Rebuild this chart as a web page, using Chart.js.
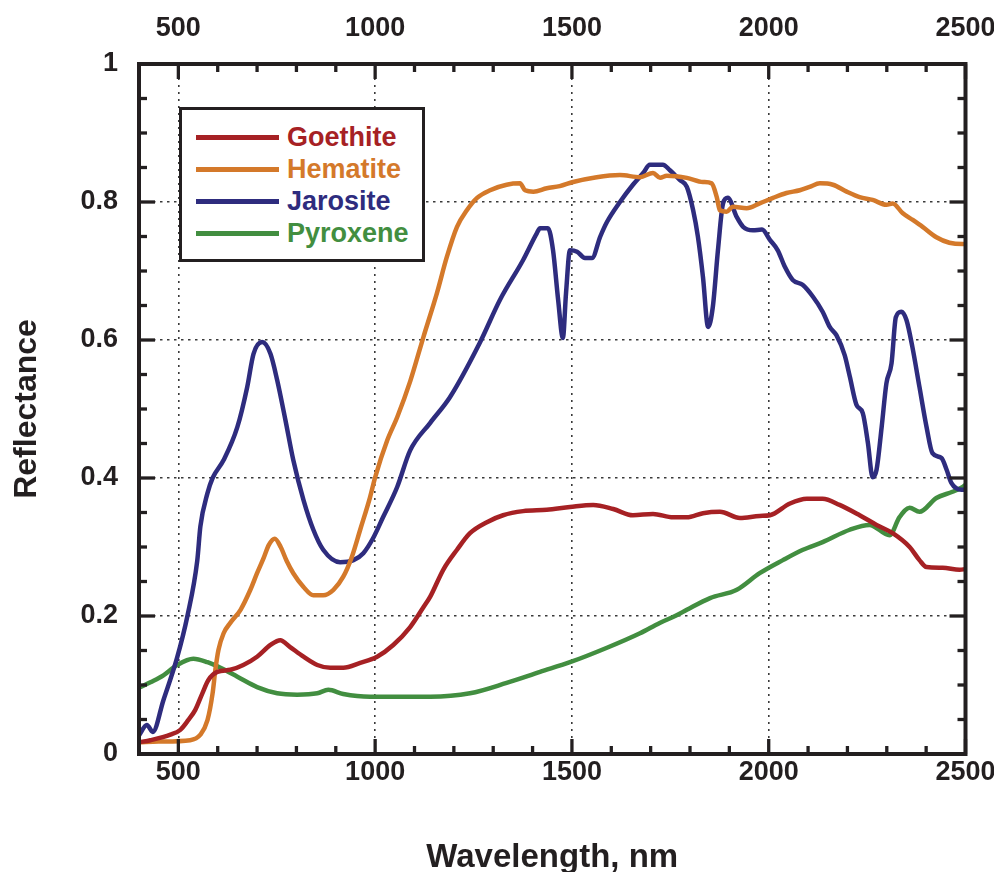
<!DOCTYPE html>
<html>
<head>
<meta charset="utf-8">
<script src="https://cdn.jsdelivr.net/npm/chart.js@4.4.1/dist/chart.umd.min.js"></script>
<style>
  html, body { margin: 0; padding: 0; background: #fff; }
  #wrap { position: relative; width: 994px; height: 872px; }
  #legend {
    position: absolute; left: 179px; top: 107px; width: 240px; height: 149px;
    border: 3.5px solid #231f20; background: #fff;
    font-family: "Liberation Sans", Arial, sans-serif; font-weight: bold; font-size: 27px;
  }
  #legend .row { position: absolute; left: 0; height: 32px; display: flex; align-items: center; }
  #legend .swatch { width: 83px; height: 5px; margin-left: 14px; margin-right: 8px; }
</style>
</head>
<body>
<div id="wrap">
  <canvas id="chart" width="994" height="872"></canvas>
  <div id="legend"></div>
</div>
<script>
// Axis tick values
const wavelengthTicks = [500, 1000, 1500, 2000, 2500];
const reflectanceTicks = [0, 0.2, 0.4, 0.6, 0.8, 1];

// Goethite spectrum
const goethiteNm = [400, 429, 480, 505, 525, 543, 561, 576, 599, 632, 665, 700, 734, 759, 784, 818, 853, 886, 919, 962,
  1005, 1046, 1089, 1123, 1140, 1173, 1208, 1241, 1284, 1325, 1376, 1436, 1495, 1554, 1605, 1655, 1706, 1757, 1792,
  1833, 1876, 1927, 1977, 2003, 2054, 2097, 2137, 2180, 2231, 2274, 2315, 2358, 2383, 2401, 2442, 2485, 2500];
const goethiteR = [0.017, 0.02, 0.028, 0.035, 0.049, 0.064, 0.088, 0.107, 0.119, 0.122, 0.129, 0.141, 0.158, 0.165, 0.155,
  0.141, 0.129, 0.125, 0.125, 0.132, 0.141, 0.158, 0.184, 0.213, 0.228, 0.267, 0.296, 0.32, 0.336, 0.346, 0.352, 0.354,
  0.358, 0.361, 0.355, 0.346, 0.348, 0.343, 0.343, 0.349, 0.351, 0.342, 0.345, 0.346, 0.363, 0.37, 0.37, 0.361, 0.346,
  0.332, 0.32, 0.30, 0.281, 0.271, 0.27, 0.267, 0.268];

// Hematite spectrum
const hematiteNm = [400, 450, 530, 556, 574, 587, 594, 602, 615, 632, 658, 683, 700, 716, 730, 745, 760, 775, 792, 818,
  843, 868, 894, 919, 941, 962, 987, 1000, 1031, 1056, 1089, 1123, 1157, 1182, 1208, 1233, 1259, 1292, 1334, 1368,
  1381, 1402, 1436, 1469, 1503, 1563, 1622, 1673, 1706, 1724, 1741, 1792, 1833, 1855, 1868, 1876, 1893, 1909, 1944,
  1977, 2011, 2045, 2079, 2104, 2130, 2163, 2198, 2231, 2264, 2299, 2315, 2340, 2366, 2391, 2426, 2459, 2493, 2500];
const hematiteR = [0.017, 0.018, 0.02, 0.028, 0.049, 0.088, 0.122, 0.151, 0.175, 0.19, 0.209, 0.238, 0.262, 0.283, 0.303,
  0.312, 0.3, 0.28, 0.262, 0.242, 0.23, 0.23, 0.238, 0.257, 0.286, 0.325, 0.372, 0.401, 0.455, 0.488, 0.54, 0.605,
  0.668, 0.72, 0.764, 0.788, 0.806, 0.817, 0.825, 0.827, 0.817, 0.815, 0.82, 0.823, 0.829, 0.836, 0.839, 0.836, 0.842,
  0.835, 0.838, 0.835, 0.829, 0.827, 0.807, 0.788, 0.786, 0.793, 0.791, 0.798, 0.806, 0.813, 0.817, 0.822, 0.827,
  0.825, 0.815, 0.807, 0.803, 0.796, 0.798, 0.784, 0.774, 0.764, 0.749, 0.741, 0.739, 0.739];

// Jarosite spectrum
const jarositeNm = [400, 420, 435, 462, 497, 523, 548, 556, 574, 587, 615, 650, 675, 691, 713, 734, 751, 772, 792, 818,
  843, 868, 911, 945, 970, 995, 1020, 1056, 1089, 1140, 1190, 1266, 1317, 1376, 1411, 1419, 1439, 1452, 1465, 1477,
  1485, 1495, 1513, 1533, 1551, 1572, 1589, 1622, 1655, 1681, 1698, 1731, 1749, 1774, 1792, 1808, 1820, 1833, 1846,
  1858, 1871, 1884, 1896, 1919, 1935, 1960, 1983, 2003, 2023, 2041, 2061, 2086, 2112, 2137, 2155, 2172, 2193, 2206,
  2223, 2239, 2252, 2264, 2274, 2287, 2299, 2312, 2323, 2337, 2350, 2365, 2383, 2401, 2416, 2439, 2452, 2464, 2490, 2500];
const jarositeR = [0.027, 0.042, 0.032, 0.078, 0.14, 0.2, 0.28, 0.33, 0.378, 0.4, 0.426, 0.474, 0.532, 0.58, 0.597, 0.58,
  0.542, 0.484, 0.426, 0.368, 0.325, 0.296, 0.278, 0.281, 0.291, 0.313, 0.343, 0.387, 0.44, 0.48, 0.517, 0.596, 0.658,
  0.716, 0.755, 0.762, 0.762, 0.73, 0.658, 0.603, 0.668, 0.73, 0.728, 0.719, 0.719, 0.75, 0.771, 0.8, 0.825, 0.842,
  0.854, 0.854, 0.846, 0.832, 0.822, 0.788, 0.75, 0.691, 0.619, 0.648, 0.73, 0.798, 0.806, 0.778, 0.764, 0.759, 0.76,
  0.745, 0.73, 0.706, 0.687, 0.68, 0.663, 0.641, 0.619, 0.607, 0.578, 0.547, 0.506, 0.494, 0.451, 0.401, 0.412, 0.474,
  0.537, 0.566, 0.633, 0.641, 0.629, 0.59, 0.532, 0.474, 0.436, 0.429, 0.412, 0.393, 0.383, 0.383];

// Pyroxene spectrum
const pyroxeneNm = [400, 429, 462, 497, 538, 574, 607, 650, 700, 751, 802, 853, 881, 919, 987, 1056, 1140, 1241, 1334,
  1419, 1495, 1589, 1673, 1723, 1766, 1792, 1851, 1919, 1977, 2036, 2087, 2137, 2206, 2256, 2307, 2332, 2358, 2383,
  2426, 2467, 2493, 2500];
const pyroxeneR = [0.096, 0.104, 0.114, 0.129, 0.138, 0.133, 0.125, 0.112, 0.097, 0.088, 0.086, 0.088, 0.093, 0.087,
  0.083, 0.083, 0.083, 0.088, 0.103, 0.119, 0.133, 0.154, 0.175, 0.19, 0.201, 0.209, 0.226, 0.238, 0.262, 0.281, 0.296,
  0.307, 0.325, 0.332, 0.317, 0.343, 0.357, 0.351, 0.371, 0.38, 0.387, 0.39];

const seriesNames = ['Goethite', 'Hematite', 'Jarosite', 'Pyroxene'];

const FONT = '"Liberation Sans", Arial, Helvetica, sans-serif';
const INK = '#231f20';
const COLORS = ['#a62124', '#d4792a', '#2e2c7e', '#428e40'];

const toPoints = (xs, ys) => xs.map((x, i) => ({ x, y: ys[i] }));
const spectra = [
  toPoints(goethiteNm, goethiteR),
  toPoints(hematiteNm, hematiteR),
  toPoints(jarositeNm, jarositeR),
  toPoints(pyroxeneNm, pyroxeneR)
];

// Closed frame with inward major/minor tick marks on all four sides
const frameTicks = {
  id: 'frameTicks',
  afterDatasetsDraw(chart) {
    const { ctx, chartArea: a, scales } = chart;
    const xs = scales.x, ys = scales.y;
    const seg = (x1, y1, x2, y2) => { ctx.beginPath(); ctx.moveTo(x1, y1); ctx.lineTo(x2, y2); ctx.stroke(); };
    ctx.save();
    ctx.strokeStyle = INK;
    ctx.lineWidth = 3.3;
    for (let v = xs.min; v <= xs.max; v += 100) {
      const px = xs.getPixelForValue(v);
      const len = v % 500 === 0 ? 15 : 8;
      seg(px, a.bottom, px, a.bottom - len);
      seg(px, a.top, px, a.top + len);
    }
    for (let i = 0; i <= 20; i++) {
      const py = ys.getPixelForValue(i * 0.05);
      const len = i % 4 === 0 ? 16 : 8;
      seg(a.left, py, a.left + len, py);
      seg(a.right, py, a.right - len, py);
    }
    ctx.lineWidth = 4;
    ctx.strokeRect(a.left, a.top, a.right - a.left, a.bottom - a.top);
    ctx.restore();
  }
};

const tickFont = { family: FONT, size: 27, weight: 'bold' };
const fixedTicks = (vals) => (scale) => { scale.ticks = vals.map(v => ({ value: v })); };
const plainLabel = (v) => String(v);
const fitHorizontal = (h) => (s) => { s.height = h; s.paddingLeft = 0; s.paddingRight = 0; };
const fitVertical = (w) => (s) => { s.width = w; s.paddingTop = 0; s.paddingBottom = 0; };

const chart = new Chart(document.getElementById('chart'), {
  type: 'line',
  data: {
    datasets: seriesNames.map((name, i) => ({
      label: name,
      data: spectra[i],
      borderColor: COLORS[i],
      backgroundColor: COLORS[i],
      borderWidth: 4.5,
      pointRadius: 0,
      cubicInterpolationMode: 'monotone',
      fill: false
    }))
  },
  options: {
    responsive: false,
    animation: false,
    layout: { padding: 0 },
    plugins: { legend: { display: false }, tooltip: { enabled: false } },
    scales: {
      x: {
        type: 'linear', position: 'bottom', min: 400, max: 2500,
        afterFit: fitHorizontal(118),
        afterBuildTicks: fixedTicks(wavelengthTicks),
        ticks: { font: tickFont, color: INK, padding: 2, maxRotation: 0, autoSkip: false, callback: plainLabel },
        grid: { drawTicks: false, color: '#3a3a3a', lineWidth: 1.6 },
        border: { display: false, dash: [2, 5] },
        title: { display: true, text: 'Wavelength, nm', color: INK,
                 font: { family: FONT, size: 33, weight: 'bold' }, padding: { top: 0, bottom: -6 } }
      },
      x2: {
        type: 'linear', position: 'top', min: 400, max: 2500,
        afterFit: fitHorizontal(64),
        afterBuildTicks: fixedTicks(wavelengthTicks),
        ticks: { font: tickFont, color: INK, padding: 19, maxRotation: 0, autoSkip: false, callback: plainLabel },
        grid: { display: false, drawTicks: false },
        border: { display: false }
      },
      y: {
        type: 'linear', position: 'left', min: 0, max: 1,
        afterFit: fitVertical(139),
        afterBuildTicks: fixedTicks(reflectanceTicks),
        ticks: { font: tickFont, color: INK, padding: 21, callback: plainLabel },
        grid: { drawTicks: false, color: '#3a3a3a', lineWidth: 1.6 },
        border: { display: false, dash: [2.5, 4.5] },
        title: { display: true, text: 'Reflectance', color: INK,
                 font: { family: FONT, size: 32, weight: 'bold' }, padding: { top: 8, bottom: 0 } }
      },
      y2: {
        type: 'linear', position: 'right', min: 0, max: 1,
        afterFit: fitVertical(28.5),
        ticks: { display: false },
        grid: { display: false, drawTicks: false },
        border: { display: false }
      }
    }
  },
  plugins: [frameTicks]
});

// Legend box built from the chart's datasets
const legendEl = document.getElementById('legend');
chart.data.datasets.forEach((ds, i) => {
  const row = document.createElement('div');
  row.className = 'row';
  row.style.top = (11 + i * 32) + 'px';
  const sw = document.createElement('span');
  sw.className = 'swatch';
  sw.style.background = ds.borderColor;
  const txt = document.createElement('span');
  txt.textContent = ds.label;
  txt.style.color = ds.borderColor;
  row.appendChild(sw);
  row.appendChild(txt);
  legendEl.appendChild(row);
});
</script>
</body>
</html>
